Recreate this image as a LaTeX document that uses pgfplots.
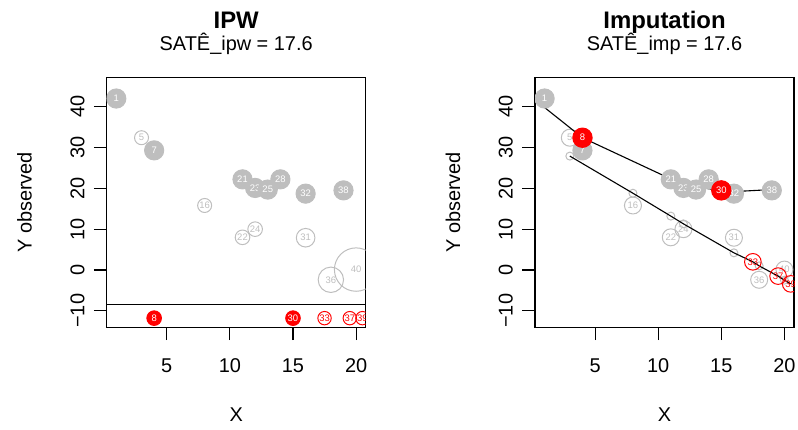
\documentclass[border=0pt]{standalone}
\usepackage{fontspec}
\setmainfont{Liberation Sans}
\usepackage{pgfplots}
\pgfplotsset{compat=1.18}
\definecolor{rgray}{HTML}{BEBEBE}
\definecolor{rred}{HTML}{FF0000}

\pgfplotsset{
  panel/.style={
    scale only axis, width=259bp, height=250bp,
    xmin=0.24, xmax=20.76, ymin=-14.04, ymax=47.2,
    axis line style={line width=1.1bp},
    tick style={line width=1.1bp, black},
    tick align=outside, major tick length=12.7bp,
    xtick pos=bottom, ytick pos=left,
    xtick={5,10,15,20}, ytick={-10,0,10,20,30,40},
    yticklabels={−10,0,10,20,30,40},
    /pgf/number format/assume math mode=true,
    ticklabel style={font=\fontsize{20}{24}\selectfont},
    xticklabel style={anchor=base}, xticklabel shift=32.7bp,
    yticklabel style={rotate=90, anchor=base}, yticklabel shift=9.7bp,
    clip marker paths=true,
    xlabel={X}, ylabel={Y observed},
    every axis x label/.style={at={(rel axis cs:0.5,-0.3748)}, anchor=base, font=\fontsize{20}{24}\selectfont},
    every axis y label/.style={at={(rel axis cs:-0.28958,0.5)}, rotate=90, anchor=base, font=\fontsize{20}{24}\selectfont},
    every axis title shift=0pt,
    title style={font=\fontsize{24}{28}\bfseries\selectfont, at={(rel axis cs:0.5,1.196)}, anchor=base},
  },
  circ/.style={
    only marks, mark size=#1,
    point meta=explicit symbolic,
    nodes near coords,
    every node near coord/.append style={anchor=center, inner sep=0pt, font=\fontsize{9.5}{10}\selectfont},
  },
  filled/.style 2 args={circ=#2, mark=*, mark options={draw=#1, fill=#1, line width=1bp},
    every node near coord/.append style={text=white}},
  hollow/.style 2 args={circ=#2, mark=o, mark options={draw=#1, fill=none, line width=1bp},
    every node near coord/.append style={text=#1}},
}

\begin{document}
\begin{tikzpicture}
\useasboundingbox (0,0) rectangle (798bp,430bp);

% ---------------- IPW ----------------
\begin{axis}[panel, at={(106.7bp,102.7bp)}, anchor=south west,
  title={IPW},
  after end axis/.code={\node[font=\fontsize{20}{24}\selectfont, anchor=base] at (rel axis cs:0.5,1.1052) {SATÊ\_ipw = 17.6};}]
% controls, sized by weight
\addplot[hollow={rgray}{7bp}] table[meta=lbl] {
x y lbl
3 32.4 5
8 15.8 16
};
\addplot[hollow={rgray}{7.3bp}] table[meta=lbl] {
x y lbl
11 8.0 22
12 10.0 24
};
\addplot[hollow={rgray}{9.3bp}] table[meta=lbl] {
x y lbl
16 7.9 31
};
\addplot[hollow={rgray}{12.7bp}] table[meta=lbl] {
x y lbl
18 -2.4 36
};
\addplot[hollow={rgray}{21.7bp}] table[meta=lbl] {
x y lbl
20 0.1 40
};
% treated, observed
\addplot[filled={rgray}{9.6bp}] table[meta=lbl] {
x y lbl
1 42.0 1
4 29.3 7
11 22.2 21
12 20.1 23
13 19.7 25
14 22.2 28
16 18.7 32
19 19.5 38
};
\addplot[black, line width=1.1bp, no marks] coordinates {(0.24,-8.56) (20.76,-8.56)};
% missing outcomes
\addplot[filled={rred}{7.3bp}] table[meta=lbl] {
x y lbl
4 -11.8 8
15 -11.8 30
};
\addplot[hollow={rred}{6.7bp}] table[meta=lbl] {
x y lbl
17.5 -11.8 33
19.5 -11.8 37
20.5 -11.8 39
};
\end{axis}

% ---------------- Imputation ----------------
\begin{axis}[panel, at={(535bp,102.7bp)}, anchor=south west,
  title={Imputation},
  after end axis/.code={\node[font=\fontsize{20}{24}\selectfont, anchor=base] at (rel axis cs:0.5,1.1052) {SATÊ\_imp = 17.6};}]
\addplot[hollow={rgray}{8.5bp}] table[meta=lbl] {
x y lbl
3 32.4 5
8 15.8 16
11 8.0 22
12 10.0 24
16 7.9 31
18 -2.4 36
20 0.1 40
};
% fitted values for controls
\addplot[only marks, mark=o, mark size=4bp, mark options={draw=rgray, line width=1bp}] table {
x y
3 27.9
8 18.8
11 13.2
12 11.3
16 4.2
18 1.0
20 -2.5
};
\addplot[black, line width=1.1bp, no marks] coordinates {(3,27.9) (8,18.8) (11,13.2) (12,11.3) (16,4.2) (17.5,2.0) (18,1.0) (19.5,-1.5) (20,-2.5) (20.5,-3.4)};
\addplot[black, line width=1.1bp, no marks] coordinates {(1,39.8) (4,32.4) (11,22.3) (12,21.2) (13,20.4) (14,19.9) (15,19.5) (16,19.2) (19,19.7)};
\addplot[filled={rgray}{9.6bp}] table[meta=lbl] {
x y lbl
1 42.0 1
4 29.3 7
11 22.2 21
12 20.1 23
13 19.7 25
14 22.2 28
16 18.7 32
19 19.5 38
};
\addplot[filled={rred}{9.7bp}] table[meta=lbl] {
x y lbl
4 32.4 8
15 19.5 30
};
\addplot[hollow={rred}{8.3bp}] table[meta=lbl] {
x y lbl
17.5 2.0 33
19.5 -1.5 37
20.5 -3.4 39
};
\end{axis}
\end{tikzpicture}
\end{document}
